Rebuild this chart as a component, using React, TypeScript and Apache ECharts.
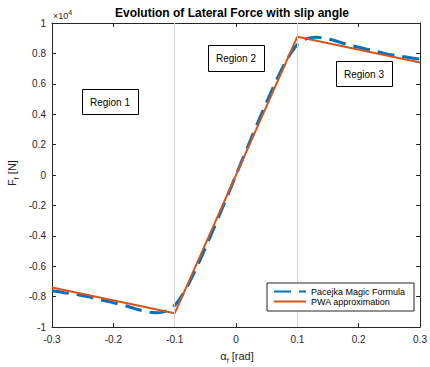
import React, { useEffect, useRef } from "react";
import * as echarts from "echarts";

// ---- data ----
const xTickValues = [-0.3, -0.2, -0.1, 0, 0.1, 0.2, 0.3];
const yTickValues = [-10000, -8000, -6000, -4000, -2000, 0, 2000, 4000, 6000, 8000, 10000];

const pacejkaAlpha = [
  -0.3, -0.28, -0.26, -0.24, -0.22, -0.2, -0.18, -0.16, -0.14, -0.13, -0.12, -0.11, -0.1,
  -0.09, -0.08, -0.07, -0.06, -0.05, -0.04, -0.02, 0,
  0.02, 0.04, 0.05, 0.06, 0.07, 0.08, 0.09, 0.1, 0.11, 0.12, 0.13, 0.14, 0.16, 0.18,
  0.2, 0.22, 0.24, 0.26, 0.28, 0.3,
];
const pacejkaForce = [
  -7620, -7740, -7860, -8020, -8220, -8400, -8600, -8850, -9030, -9060, -9020, -8880, -8580,
  -8050, -7380, -6580, -5720, -4800, -3880, -1960, 0,
  1960, 3880, 4800, 5720, 6580, 7380, 8050, 8580, 8880, 9020, 9060, 9030, 8850, 8600,
  8400, 8220, 8020, 7860, 7740, 7620,
];

const pwaAlpha = [-0.3, -0.1, 0.1, 0.3];
const pwaForce = [-7400, -9100, 9100, 7400];

const regionBoundaries = [-0.1, 0.1];
const regionLabels = ["Region 1", "Region 2", "Region 3"];
const seriesNames = ["Pacejka Magic Formula", "PWA approximation"];

const FONT = '"Liberation Sans", Arial, Helvetica, sans-serif';
const AX = "#262626";

export default function App() {
  const ref = useRef<HTMLDivElement>(null);

  useEffect(() => {
    document.body.style.margin = "0";
    if (!ref.current) return;
    const chart = echarts.init(ref.current, undefined, { renderer: "svg" });

    const fmtX = (v: number) => String(Math.round(v * 10) / 10);
    const fmtY = (v: number) => String(Math.round(v / 1000) / 10);

    const axisCommon = {
      axisLine: { show: true, onZero: false, lineStyle: { color: AX, width: 1 } },
      axisTick: { show: true, inside: true, length: 4, lineStyle: { color: AX, width: 1 } },
      splitLine: { show: false },
    };

    const regionBoxes = [
      { x: 82, y: 89, w: 56, h: 25 },
      { x: 208, y: 45, w: 56, h: 26 },
      { x: 336, y: 61, w: 56, h: 25 },
    ];

    const graphics: any[] = [
      {
        type: "text",
        x: 232,
        y: 13,
        style: {
          text: "Evolution of Lateral Force with slip angle",
          fontFamily: FONT,
          fontSize: 12,
          fontWeight: "bold",
          fill: "#000",
          align: "center",
          verticalAlign: "middle",
        },
      },
      {
        type: "text",
        x: 53,
        y: 16,
        style: {
          text: "{a|×10}{b|4}",
          align: "left",
          verticalAlign: "middle",
          rich: {
            a: { fontFamily: FONT, fontSize: 9, lineHeight: 11, fill: AX, color: AX },
            b: { fontFamily: FONT, fontSize: 7, lineHeight: 7, padding: [0, 0, 7, 0], fill: AX, color: AX },
          },
        },
      },
      {
        type: "text",
        x: 12,
        y: 173,
        rotation: Math.PI / 2,
        style: {
          text: "{a|F}{b|f}{a| [N]}",
          align: "center",
          verticalAlign: "middle",
          rich: {
            a: { fontFamily: FONT, fontSize: 11, lineHeight: 12, fill: AX, color: AX },
            b: { fontFamily: FONT, fontSize: 7, lineHeight: 7, padding: [8, 0, 0, 0], fill: AX, color: AX },
          },
        },
      },
      {
        type: "text",
        x: 237,
        y: 356,
        style: {
          text: "{a|α}{b|f}{a| [rad]}",
          align: "center",
          verticalAlign: "middle",
          rich: {
            a: { fontFamily: FONT, fontSize: 11, lineHeight: 12, fill: AX, color: AX },
            b: { fontFamily: FONT, fontSize: 7, lineHeight: 7, padding: [8, 0, 0, 0], fill: AX, color: AX },
          },
        },
      },
    ];

    regionBoxes.forEach((b, i) => {
      graphics.push({
        type: "rect",
        shape: { x: b.x + 0.5, y: b.y + 0.5, width: b.w, height: b.h },
        style: { fill: "#fff", stroke: "#000", lineWidth: 1 },
        z: 10,
      });
      graphics.push({
        type: "text",
        x: b.x + b.w / 2,
        y: b.y + b.h / 2 + 0.5,
        style: {
          text: regionLabels[i],
          fontFamily: FONT,
          fontSize: 10,
          fill: "#000",
          align: "center",
          verticalAlign: "middle",
        },
        z: 11,
      });
    });

    const option: any = {
      animation: false,
      backgroundColor: "#fff",
      grid: { left: 52, right: 5, top: 23, bottom: 40, containLabel: false },
      xAxis: [
        {
          type: "value",
          position: "bottom",
          min: xTickValues[0],
          max: xTickValues[xTickValues.length - 1],
          interval: 0.1,
          ...axisCommon,
          axisLabel: { formatter: fmtX, fontSize: 10, color: AX, fontFamily: FONT, margin: 7 },
        },
        {
          type: "value",
          position: "top",
          min: xTickValues[0],
          max: xTickValues[xTickValues.length - 1],
          interval: 0.1,
          ...axisCommon,
          axisLabel: { show: false },
        },
      ],
      yAxis: [
        {
          type: "value",
          position: "left",
          min: yTickValues[0],
          max: yTickValues[yTickValues.length - 1],
          interval: 2000,
          ...axisCommon,
          axisLabel: { formatter: fmtY, fontSize: 10, color: AX, fontFamily: FONT, margin: 6 },
        },
        {
          type: "value",
          position: "right",
          min: yTickValues[0],
          max: yTickValues[yTickValues.length - 1],
          interval: 2000,
          ...axisCommon,
          axisLabel: { show: false },
        },
      ],
      legend: {
        data: seriesNames,
        orient: "vertical",
        left: 267,
        top: 283,
        itemWidth: 32,
        itemHeight: 10,
        itemGap: 1,
        padding: [4, 9, 5, 6],
        borderColor: AX,
        borderWidth: 1,
        borderRadius: 0,
        backgroundColor: "#fff",
        itemStyle: { opacity: 0, borderWidth: 0 },
        textStyle: { fontSize: 9, color: "#000", fontFamily: FONT },
        z: 20,
      },
      series: [
        {
          name: "boundaries",
          type: "line",
          data: [],
          z: 1,
          silent: true,
          markLine: {
            silent: true,
            symbol: "none",
            label: { show: false },
            lineStyle: { color: "#d4d4d4", width: 1, type: "solid" },
            data: regionBoundaries.map((v) => ({ xAxis: v })),
          },
        },
        {
          name: seriesNames[0],
          type: "line",
          data: pacejkaAlpha.map((a, i) => [a, pacejkaForce[i]]),
          showSymbol: false,
          symbol: "none",
          smooth: 0.3,
          z: 3,
          lineStyle: { color: "#0072BD", width: 3, type: [17, 8] },
          itemStyle: { color: "#0072BD" },
        },
        {
          name: seriesNames[1],
          type: "line",
          data: pwaAlpha.map((a, i) => [a, pwaForce[i]]),
          showSymbol: false,
          symbol: "none",
          z: 4,
          lineStyle: { color: "#D95319", width: 2 },
          itemStyle: { color: "#D95319" },
        },
      ],
      graphic: graphics,
    };

    chart.setOption(option);
    return () => chart.dispose();
  }, []);

  return <div ref={ref} style={{ width: 430, height: 367 }} />;
}
